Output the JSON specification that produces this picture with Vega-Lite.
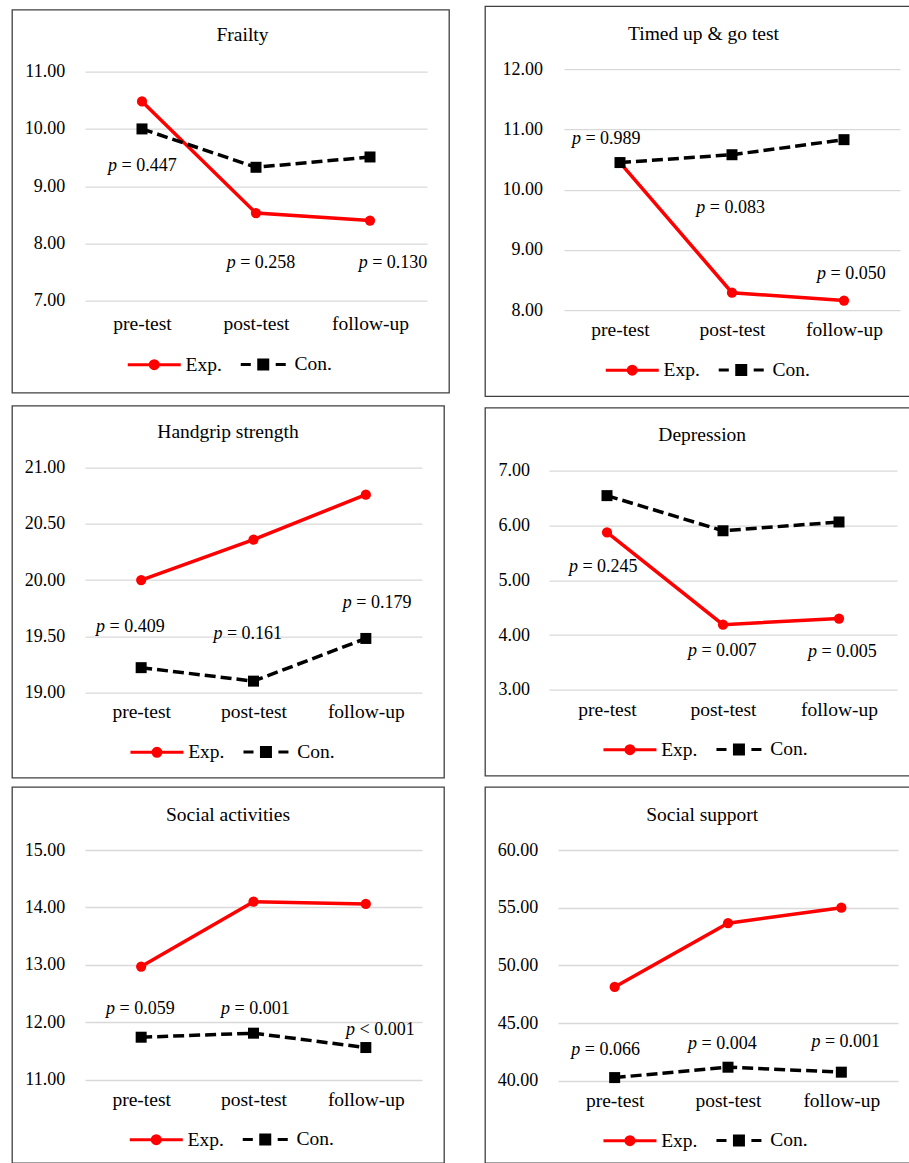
{
  "$schema": "https://vega.github.io/schema/vega-lite/v6.json",
  "background": "white",
  "padding": {"left": 11, "top": 5, "right": 0, "bottom": 0},
  "datasets": {
    "series": [
      {"panel": "Frailty", "group": "Exp.", "time": 0, "phase": "pre-test", "value": 10.48},
      {"panel": "Frailty", "group": "Exp.", "time": 1, "phase": "post-test", "value": 8.53},
      {"panel": "Frailty", "group": "Exp.", "time": 2, "phase": "follow-up", "value": 8.40},
      {"panel": "Frailty", "group": "Con.", "time": 0, "phase": "pre-test", "value": 10.00},
      {"panel": "Frailty", "group": "Con.", "time": 1, "phase": "post-test", "value": 9.33},
      {"panel": "Frailty", "group": "Con.", "time": 2, "phase": "follow-up", "value": 9.51},
      {"panel": "Timed up & go test", "group": "Exp.", "time": 0, "phase": "pre-test", "value": 10.45},
      {"panel": "Timed up & go test", "group": "Exp.", "time": 1, "phase": "post-test", "value": 8.29},
      {"panel": "Timed up & go test", "group": "Exp.", "time": 2, "phase": "follow-up", "value": 8.16},
      {"panel": "Timed up & go test", "group": "Con.", "time": 0, "phase": "pre-test", "value": 10.45},
      {"panel": "Timed up & go test", "group": "Con.", "time": 1, "phase": "post-test", "value": 10.58},
      {"panel": "Timed up & go test", "group": "Con.", "time": 2, "phase": "follow-up", "value": 10.83},
      {"panel": "Handgrip strength", "group": "Exp.", "time": 0, "phase": "pre-test", "value": 20.00},
      {"panel": "Handgrip strength", "group": "Exp.", "time": 1, "phase": "post-test", "value": 20.36},
      {"panel": "Handgrip strength", "group": "Exp.", "time": 2, "phase": "follow-up", "value": 20.76},
      {"panel": "Handgrip strength", "group": "Con.", "time": 0, "phase": "pre-test", "value": 19.22},
      {"panel": "Handgrip strength", "group": "Con.", "time": 1, "phase": "post-test", "value": 19.10},
      {"panel": "Handgrip strength", "group": "Con.", "time": 2, "phase": "follow-up", "value": 19.48},
      {"panel": "Depression", "group": "Exp.", "time": 0, "phase": "pre-test", "value": 5.87},
      {"panel": "Depression", "group": "Exp.", "time": 1, "phase": "post-test", "value": 4.19},
      {"panel": "Depression", "group": "Exp.", "time": 2, "phase": "follow-up", "value": 4.30},
      {"panel": "Depression", "group": "Con.", "time": 0, "phase": "pre-test", "value": 6.54},
      {"panel": "Depression", "group": "Con.", "time": 1, "phase": "post-test", "value": 5.90},
      {"panel": "Depression", "group": "Con.", "time": 2, "phase": "follow-up", "value": 6.06},
      {"panel": "Social activities", "group": "Exp.", "time": 0, "phase": "pre-test", "value": 12.97},
      {"panel": "Social activities", "group": "Exp.", "time": 1, "phase": "post-test", "value": 14.10},
      {"panel": "Social activities", "group": "Exp.", "time": 2, "phase": "follow-up", "value": 14.06},
      {"panel": "Social activities", "group": "Con.", "time": 0, "phase": "pre-test", "value": 11.74},
      {"panel": "Social activities", "group": "Con.", "time": 1, "phase": "post-test", "value": 11.81},
      {"panel": "Social activities", "group": "Con.", "time": 2, "phase": "follow-up", "value": 11.56},
      {"panel": "Social support", "group": "Exp.", "time": 0, "phase": "pre-test", "value": 48.13},
      {"panel": "Social support", "group": "Exp.", "time": 1, "phase": "post-test", "value": 53.65},
      {"panel": "Social support", "group": "Exp.", "time": 2, "phase": "follow-up", "value": 55.00},
      {"panel": "Social support", "group": "Con.", "time": 0, "phase": "pre-test", "value": 40.27},
      {"panel": "Social support", "group": "Con.", "time": 1, "phase": "post-test", "value": 41.17},
      {"panel": "Social support", "group": "Con.", "time": 2, "phase": "follow-up", "value": 40.74}
    ],
    "plabels": [
      {"panel": "Frailty", "time": -0.298, "value": 9.35, "txt": "= 0.447"},
      {"panel": "Frailty", "time": 0.743, "value": 7.664, "txt": "= 0.258"},
      {"panel": "Frailty", "time": 1.901, "value": 7.664, "txt": "= 0.130"},
      {"panel": "Timed up & go test", "time": -0.429, "value": 10.846, "txt": "= 0.989"},
      {"panel": "Timed up & go test", "time": 0.681, "value": 9.69, "txt": "= 0.083"},
      {"panel": "Timed up & go test", "time": 1.759, "value": 8.601, "txt": "= 0.050"},
      {"panel": "Handgrip strength", "time": -0.402, "value": 19.584, "txt": "= 0.409"},
      {"panel": "Handgrip strength", "time": 0.643, "value": 19.52, "txt": "= 0.161"},
      {"panel": "Handgrip strength", "time": 1.795, "value": 19.797, "txt": "= 0.179"},
      {"panel": "Depression", "time": -0.328, "value": 5.242, "txt": "= 0.245"},
      {"panel": "Depression", "time": 0.698, "value": 3.712, "txt": "= 0.007"},
      {"panel": "Depression", "time": 1.733, "value": 3.694, "txt": "= 0.005"},
      {"panel": "Social activities", "time": -0.313, "value": 12.223, "txt": "= 0.059"},
      {"panel": "Social activities", "time": 0.711, "value": 12.223, "txt": "= 0.001"},
      {"panel": "Social activities", "time": 1.824, "value": 11.862, "txt": "< 0.001"},
      {"panel": "Social support", "time": -0.383, "value": 42.694, "txt": "= 0.066"},
      {"panel": "Social support", "time": 0.647, "value": 43.17, "txt": "= 0.004"},
      {"panel": "Social support", "time": 1.736, "value": 43.32, "txt": "= 0.001"}
    ]
  },
  "spacing": 7.5,
  "resolve": {"scale": {"color": "independent"}, "legend": {"color": "independent"}},
  "vconcat": [
    {
      "hconcat": [
        {
          "width": 437, "height": 383,
          "title": {"text": "Frailty", "offset": -35.7, "dx": 12},
          "encoding": {
            "x": {"field": "time", "type": "quantitative", "scale": {"domain": [-0.5, 2.5], "range": [73, 415], "nice": false, "zero": false}, "axis": {"values": [0, 1, 2], "labelExpr": "['pre-test','post-test','follow-up'][datum.value]", "offset": -78.4, "title": null, "grid": false}},
            "y": {"field": "value", "type": "quantitative", "scale": {"domain": [7, 11], "range": [291, 62], "nice": false, "zero": false}, "axis": {"values": [7, 8, 9, 10, 11], "format": ".2f", "offset": -52.7, "title": null, "grid": true}}
          },
          "layer": [
            {"data": {"name": "series"}, "transform": [{"filter": "datum.panel === 'Frailty' && datum.group === 'Exp.'"}], "mark": {"type": "line", "strokeWidth": 3.5},
             "encoding": {"color": {"field": "group", "type": "nominal", "scale": {"domain": ["Exp.", "Con."], "range": ["#ff0000", "#000000"]},
               "legend": {"title": null, "legendX": 132.5, "legendY": 344.6, "encode": {"symbols": {"update": {
                 "shape": {"signal": "datum.value === 'Exp.' ? 'M-5.3,0L5.3,0M0.8,0A0.8,0.8,0,1,1,-0.8,0A0.8,0.8,0,1,1,0.8,0Z' : 'M-4.5,0L-2.49,0M2.49,0L4.5,0M-0.9,-0.9L0.9,-0.9L0.9,0.9L-0.9,0.9Z'"},
                 "fill": {"signal": "datum.value === 'Exp.' ? '#ff0000' : '#000000'"},
                 "stroke": {"signal": "datum.value === 'Exp.' ? '#ff0000' : '#000000'"},
                 "strokeWidth": {"value": 3}, "strokeDash": {"value": []}, "opacity": {"value": 1}, "fillOpacity": {"value": 1}, "strokeOpacity": {"value": 1}}}}}}}},
            {"data": {"name": "series"}, "transform": [{"filter": "datum.panel === 'Frailty' && datum.group === 'Exp.'"}], "mark": {"type": "point", "filled": true, "shape": "circle", "size": 105, "opacity": 1},
             "encoding": {"color": {"field": "group", "type": "nominal", "scale": {"domain": ["Exp.", "Con."], "range": ["#ff0000", "#000000"]}}}},
            {"data": {"name": "series"}, "transform": [{"filter": "datum.panel === 'Frailty' && datum.group === 'Con.'"}], "mark": {"type": "line", "strokeWidth": 3.5, "strokeDash": [11, 5]},
             "encoding": {"color": {"field": "group", "type": "nominal", "scale": {"domain": ["Exp.", "Con."], "range": ["#ff0000", "#000000"]}}}},
            {"data": {"name": "series"}, "transform": [{"filter": "datum.panel === 'Frailty' && datum.group === 'Con.'"}], "mark": {"type": "point", "filled": true, "shape": "square", "size": 121, "opacity": 1},
             "encoding": {"color": {"field": "group", "type": "nominal", "scale": {"domain": ["Exp.", "Con."], "range": ["#ff0000", "#000000"]}}}},
            {"data": {"name": "plabels"}, "transform": [{"filter": "datum.panel === 'Frailty'"}], "mark": {"type": "text", "text": "p", "fontStyle": "italic", "align": "left", "baseline": "middle", "fontSize": 18, "color": "#000000"}},
            {"data": {"name": "plabels"}, "transform": [{"filter": "datum.panel === 'Frailty'"}], "mark": {"type": "text", "align": "left", "baseline": "middle", "dx": 13.5, "fontSize": 18, "color": "#000000"}, "encoding": {"text": {"field": "txt"}}}
          ]
        },
        {
          "width": 427, "height": 390,
          "title": {"text": "Timed up & go test", "offset": -38.3, "dx": 5},
          "encoding": {
            "x": {"field": "time", "type": "quantitative", "scale": {"domain": [-0.5, 2.5], "range": [79, 415], "nice": false, "zero": false}, "axis": {"values": [0, 1, 2], "labelExpr": "['pre-test','post-test','follow-up'][datum.value]", "offset": -75.9, "title": null, "grid": false}},
            "y": {"field": "value", "type": "quantitative", "scale": {"domain": [8, 12], "range": [304, 63], "nice": false, "zero": false}, "axis": {"values": [8, 9, 10, 11, 12], "format": ".2f", "offset": -57.4, "title": null, "grid": true}}
          },
          "layer": [
            {"data": {"name": "series"}, "transform": [{"filter": "datum.panel === 'Timed up & go test' && datum.group === 'Exp.'"}], "mark": {"type": "line", "strokeWidth": 3.5},
             "encoding": {"color": {"field": "group", "type": "nominal", "scale": {"domain": ["Exp.", "Con."], "range": ["#ff0000", "#000000"]},
               "legend": {"title": null, "legendX": 137.5, "legendY": 353.6, "encode": {"symbols": {"update": {
                 "shape": {"signal": "datum.value === 'Exp.' ? 'M-5.3,0L5.3,0M0.8,0A0.8,0.8,0,1,1,-0.8,0A0.8,0.8,0,1,1,0.8,0Z' : 'M-4.5,0L-2.49,0M2.49,0L4.5,0M-0.9,-0.9L0.9,-0.9L0.9,0.9L-0.9,0.9Z'"},
                 "fill": {"signal": "datum.value === 'Exp.' ? '#ff0000' : '#000000'"},
                 "stroke": {"signal": "datum.value === 'Exp.' ? '#ff0000' : '#000000'"},
                 "strokeWidth": {"value": 3}, "strokeDash": {"value": []}, "opacity": {"value": 1}, "fillOpacity": {"value": 1}, "strokeOpacity": {"value": 1}}}}}}}},
            {"data": {"name": "series"}, "transform": [{"filter": "datum.panel === 'Timed up & go test' && datum.group === 'Exp.'"}], "mark": {"type": "point", "filled": true, "shape": "circle", "size": 105, "opacity": 1},
             "encoding": {"color": {"field": "group", "type": "nominal", "scale": {"domain": ["Exp.", "Con."], "range": ["#ff0000", "#000000"]}}}},
            {"data": {"name": "series"}, "transform": [{"filter": "datum.panel === 'Timed up & go test' && datum.group === 'Con.'"}], "mark": {"type": "line", "strokeWidth": 3.5, "strokeDash": [11, 5]},
             "encoding": {"color": {"field": "group", "type": "nominal", "scale": {"domain": ["Exp.", "Con."], "range": ["#ff0000", "#000000"]}}}},
            {"data": {"name": "series"}, "transform": [{"filter": "datum.panel === 'Timed up & go test' && datum.group === 'Con.'"}], "mark": {"type": "point", "filled": true, "shape": "square", "size": 121, "opacity": 1},
             "encoding": {"color": {"field": "group", "type": "nominal", "scale": {"domain": ["Exp.", "Con."], "range": ["#ff0000", "#000000"]}}}},
            {"data": {"name": "plabels"}, "transform": [{"filter": "datum.panel === 'Timed up & go test'"}], "mark": {"type": "text", "text": "p", "fontStyle": "italic", "align": "left", "baseline": "middle", "fontSize": 18, "color": "#000000"}},
            {"data": {"name": "plabels"}, "transform": [{"filter": "datum.panel === 'Timed up & go test'"}], "mark": {"type": "text", "align": "left", "baseline": "middle", "dx": 13.5, "fontSize": 18, "color": "#000000"}, "encoding": {"text": {"field": "txt"}}}
          ]
        }
      ],
      "spacing": 34,
      "center": true,
      "resolve": {"scale": {"color": "independent"}, "legend": {"color": "independent"}}
    },
    {
      "hconcat": [
        {
          "width": 432, "height": 372,
          "title": {"text": "Handgrip strength", "offset": -37.3},
          "encoding": {
            "x": {"field": "time", "type": "quantitative", "scale": {"domain": [-0.5, 2.5], "range": [73, 410], "nice": false, "zero": false}, "axis": {"values": [0, 1, 2], "labelExpr": "['pre-test','post-test','follow-up'][datum.value]", "offset": -74.9, "title": null, "grid": false}},
            "y": {"field": "value", "type": "quantitative", "scale": {"domain": [19, 21], "range": [286.7, 62], "nice": false, "zero": false}, "axis": {"values": [19, 19.5, 20, 20.5, 21], "format": ".2f", "offset": -52.7, "title": null, "grid": true}}
          },
          "layer": [
            {"data": {"name": "series"}, "transform": [{"filter": "datum.panel === 'Handgrip strength' && datum.group === 'Exp.'"}], "mark": {"type": "line", "strokeWidth": 3.5},
             "encoding": {"color": {"field": "group", "type": "nominal", "scale": {"domain": ["Exp.", "Con."], "range": ["#ff0000", "#000000"]},
               "legend": {"title": null, "legendX": 135.2, "legendY": 336.3, "encode": {"symbols": {"update": {
                 "shape": {"signal": "datum.value === 'Exp.' ? 'M-5.3,0L5.3,0M0.8,0A0.8,0.8,0,1,1,-0.8,0A0.8,0.8,0,1,1,0.8,0Z' : 'M-4.5,0L-2.49,0M2.49,0L4.5,0M-0.9,-0.9L0.9,-0.9L0.9,0.9L-0.9,0.9Z'"},
                 "fill": {"signal": "datum.value === 'Exp.' ? '#ff0000' : '#000000'"},
                 "stroke": {"signal": "datum.value === 'Exp.' ? '#ff0000' : '#000000'"},
                 "strokeWidth": {"value": 3}, "strokeDash": {"value": []}, "opacity": {"value": 1}, "fillOpacity": {"value": 1}, "strokeOpacity": {"value": 1}}}}}}}},
            {"data": {"name": "series"}, "transform": [{"filter": "datum.panel === 'Handgrip strength' && datum.group === 'Exp.'"}], "mark": {"type": "point", "filled": true, "shape": "circle", "size": 105, "opacity": 1},
             "encoding": {"color": {"field": "group", "type": "nominal", "scale": {"domain": ["Exp.", "Con."], "range": ["#ff0000", "#000000"]}}}},
            {"data": {"name": "series"}, "transform": [{"filter": "datum.panel === 'Handgrip strength' && datum.group === 'Con.'"}], "mark": {"type": "line", "strokeWidth": 3.5, "strokeDash": [11, 5]},
             "encoding": {"color": {"field": "group", "type": "nominal", "scale": {"domain": ["Exp.", "Con."], "range": ["#ff0000", "#000000"]}}}},
            {"data": {"name": "series"}, "transform": [{"filter": "datum.panel === 'Handgrip strength' && datum.group === 'Con.'"}], "mark": {"type": "point", "filled": true, "shape": "square", "size": 121, "opacity": 1},
             "encoding": {"color": {"field": "group", "type": "nominal", "scale": {"domain": ["Exp.", "Con."], "range": ["#ff0000", "#000000"]}}}},
            {"data": {"name": "plabels"}, "transform": [{"filter": "datum.panel === 'Handgrip strength'"}], "mark": {"type": "text", "text": "p", "fontStyle": "italic", "align": "left", "baseline": "middle", "fontSize": 18, "color": "#000000"}},
            {"data": {"name": "plabels"}, "transform": [{"filter": "datum.panel === 'Handgrip strength'"}], "mark": {"type": "text", "align": "left", "baseline": "middle", "dx": 13.5, "fontSize": 18, "color": "#000000"}, "encoding": {"text": {"field": "txt"}}}
          ]
        },
        {
          "width": 427, "height": 368,
          "title": {"text": "Depression", "offset": -38, "dx": 3.7},
          "encoding": {
            "x": {"field": "time", "type": "quantitative", "scale": {"domain": [-0.5, 2.5], "range": [64, 412], "nice": false, "zero": false}, "axis": {"values": [0, 1, 2], "labelExpr": "['pre-test','post-test','follow-up'][datum.value]", "offset": -74.9, "title": null, "grid": false}},
            "y": {"field": "value", "type": "quantitative", "scale": {"domain": [3, 7], "range": [282.3, 62.7], "nice": false, "zero": false}, "axis": {"values": [3, 4, 5, 6, 7], "format": ".2f", "offset": -44.4, "title": null, "grid": true}}
          },
          "layer": [
            {"data": {"name": "series"}, "transform": [{"filter": "datum.panel === 'Depression' && datum.group === 'Exp.'"}], "mark": {"type": "line", "strokeWidth": 3.5},
             "encoding": {"color": {"field": "group", "type": "nominal", "scale": {"domain": ["Exp.", "Con."], "range": ["#ff0000", "#000000"]},
               "legend": {"title": null, "legendX": 135.2, "legendY": 331.6, "encode": {"symbols": {"update": {
                 "shape": {"signal": "datum.value === 'Exp.' ? 'M-5.3,0L5.3,0M0.8,0A0.8,0.8,0,1,1,-0.8,0A0.8,0.8,0,1,1,0.8,0Z' : 'M-4.5,0L-2.49,0M2.49,0L4.5,0M-0.9,-0.9L0.9,-0.9L0.9,0.9L-0.9,0.9Z'"},
                 "fill": {"signal": "datum.value === 'Exp.' ? '#ff0000' : '#000000'"},
                 "stroke": {"signal": "datum.value === 'Exp.' ? '#ff0000' : '#000000'"},
                 "strokeWidth": {"value": 3}, "strokeDash": {"value": []}, "opacity": {"value": 1}, "fillOpacity": {"value": 1}, "strokeOpacity": {"value": 1}}}}}}}},
            {"data": {"name": "series"}, "transform": [{"filter": "datum.panel === 'Depression' && datum.group === 'Exp.'"}], "mark": {"type": "point", "filled": true, "shape": "circle", "size": 105, "opacity": 1},
             "encoding": {"color": {"field": "group", "type": "nominal", "scale": {"domain": ["Exp.", "Con."], "range": ["#ff0000", "#000000"]}}}},
            {"data": {"name": "series"}, "transform": [{"filter": "datum.panel === 'Depression' && datum.group === 'Con.'"}], "mark": {"type": "line", "strokeWidth": 3.5, "strokeDash": [11, 5]},
             "encoding": {"color": {"field": "group", "type": "nominal", "scale": {"domain": ["Exp.", "Con."], "range": ["#ff0000", "#000000"]}}}},
            {"data": {"name": "series"}, "transform": [{"filter": "datum.panel === 'Depression' && datum.group === 'Con.'"}], "mark": {"type": "point", "filled": true, "shape": "square", "size": 121, "opacity": 1},
             "encoding": {"color": {"field": "group", "type": "nominal", "scale": {"domain": ["Exp.", "Con."], "range": ["#ff0000", "#000000"]}}}},
            {"data": {"name": "plabels"}, "transform": [{"filter": "datum.panel === 'Depression'"}], "mark": {"type": "text", "text": "p", "fontStyle": "italic", "align": "left", "baseline": "middle", "fontSize": 18, "color": "#000000"}},
            {"data": {"name": "plabels"}, "transform": [{"filter": "datum.panel === 'Depression'"}], "mark": {"type": "text", "align": "left", "baseline": "middle", "dx": 13.5, "fontSize": 18, "color": "#000000"}, "encoding": {"text": {"field": "txt"}}}
          ]
        }
      ],
      "spacing": 39,
      "center": true,
      "resolve": {"scale": {"color": "independent"}, "legend": {"color": "independent"}}
    },
    {
      "hconcat": [
        {
          "width": 432, "height": 376,
          "title": {"text": "Social activities", "offset": -38},
          "encoding": {
            "x": {"field": "time", "type": "quantitative", "scale": {"domain": [-0.5, 2.5], "range": [73, 410], "nice": false, "zero": false}, "axis": {"values": [0, 1, 2], "labelExpr": "['pre-test','post-test','follow-up'][datum.value]", "offset": -72.4, "title": null, "grid": false}},
            "y": {"field": "value", "type": "quantitative", "scale": {"domain": [11, 15], "range": [292.7, 63], "nice": false, "zero": false}, "axis": {"values": [11, 12, 13, 14, 15], "format": ".2f", "offset": -52.7, "title": null, "grid": true}}
          },
          "layer": [
            {"data": {"name": "series"}, "transform": [{"filter": "datum.panel === 'Social activities' && datum.group === 'Exp.'"}], "mark": {"type": "line", "strokeWidth": 3.5},
             "encoding": {"color": {"field": "group", "type": "nominal", "scale": {"domain": ["Exp.", "Con."], "range": ["#ff0000", "#000000"]},
               "legend": {"title": null, "legendX": 134.5, "legendY": 342.3, "encode": {"symbols": {"update": {
                 "shape": {"signal": "datum.value === 'Exp.' ? 'M-5.3,0L5.3,0M0.8,0A0.8,0.8,0,1,1,-0.8,0A0.8,0.8,0,1,1,0.8,0Z' : 'M-4.5,0L-2.49,0M2.49,0L4.5,0M-0.9,-0.9L0.9,-0.9L0.9,0.9L-0.9,0.9Z'"},
                 "fill": {"signal": "datum.value === 'Exp.' ? '#ff0000' : '#000000'"},
                 "stroke": {"signal": "datum.value === 'Exp.' ? '#ff0000' : '#000000'"},
                 "strokeWidth": {"value": 3}, "strokeDash": {"value": []}, "opacity": {"value": 1}, "fillOpacity": {"value": 1}, "strokeOpacity": {"value": 1}}}}}}}},
            {"data": {"name": "series"}, "transform": [{"filter": "datum.panel === 'Social activities' && datum.group === 'Exp.'"}], "mark": {"type": "point", "filled": true, "shape": "circle", "size": 105, "opacity": 1},
             "encoding": {"color": {"field": "group", "type": "nominal", "scale": {"domain": ["Exp.", "Con."], "range": ["#ff0000", "#000000"]}}}},
            {"data": {"name": "series"}, "transform": [{"filter": "datum.panel === 'Social activities' && datum.group === 'Con.'"}], "mark": {"type": "line", "strokeWidth": 3.5, "strokeDash": [11, 5]},
             "encoding": {"color": {"field": "group", "type": "nominal", "scale": {"domain": ["Exp.", "Con."], "range": ["#ff0000", "#000000"]}}}},
            {"data": {"name": "series"}, "transform": [{"filter": "datum.panel === 'Social activities' && datum.group === 'Con.'"}], "mark": {"type": "point", "filled": true, "shape": "square", "size": 121, "opacity": 1},
             "encoding": {"color": {"field": "group", "type": "nominal", "scale": {"domain": ["Exp.", "Con."], "range": ["#ff0000", "#000000"]}}}},
            {"data": {"name": "plabels"}, "transform": [{"filter": "datum.panel === 'Social activities'"}], "mark": {"type": "text", "text": "p", "fontStyle": "italic", "align": "left", "baseline": "middle", "fontSize": 18, "color": "#000000"}},
            {"data": {"name": "plabels"}, "transform": [{"filter": "datum.panel === 'Social activities'"}], "mark": {"type": "text", "align": "left", "baseline": "middle", "dx": 13.5, "fontSize": 18, "color": "#000000"}, "encoding": {"text": {"field": "txt"}}}
          ]
        },
        {
          "width": 427, "height": 376,
          "title": {"text": "Social support", "offset": -38, "dx": 3.7},
          "encoding": {
            "x": {"field": "time", "type": "quantitative", "scale": {"domain": [-0.5, 2.5], "range": [73, 413], "nice": false, "zero": false}, "axis": {"values": [0, 1, 2], "labelExpr": "['pre-test','post-test','follow-up'][datum.value]", "offset": -71.6, "title": null, "grid": false}},
            "y": {"field": "value", "type": "quantitative", "scale": {"domain": [40, 60], "range": [293.7, 63], "nice": false, "zero": false}, "axis": {"values": [40, 45, 50, 55, 60], "format": ".2f", "offset": -52.7, "title": null, "grid": true}}
          },
          "layer": [
            {"data": {"name": "series"}, "transform": [{"filter": "datum.panel === 'Social support' && datum.group === 'Exp.'"}], "mark": {"type": "line", "strokeWidth": 3.5},
             "encoding": {"color": {"field": "group", "type": "nominal", "scale": {"domain": ["Exp.", "Con."], "range": ["#ff0000", "#000000"]},
               "legend": {"title": null, "legendX": 135.2, "legendY": 343.3, "encode": {"symbols": {"update": {
                 "shape": {"signal": "datum.value === 'Exp.' ? 'M-5.3,0L5.3,0M0.8,0A0.8,0.8,0,1,1,-0.8,0A0.8,0.8,0,1,1,0.8,0Z' : 'M-4.5,0L-2.49,0M2.49,0L4.5,0M-0.9,-0.9L0.9,-0.9L0.9,0.9L-0.9,0.9Z'"},
                 "fill": {"signal": "datum.value === 'Exp.' ? '#ff0000' : '#000000'"},
                 "stroke": {"signal": "datum.value === 'Exp.' ? '#ff0000' : '#000000'"},
                 "strokeWidth": {"value": 3}, "strokeDash": {"value": []}, "opacity": {"value": 1}, "fillOpacity": {"value": 1}, "strokeOpacity": {"value": 1}}}}}}}},
            {"data": {"name": "series"}, "transform": [{"filter": "datum.panel === 'Social support' && datum.group === 'Exp.'"}], "mark": {"type": "point", "filled": true, "shape": "circle", "size": 105, "opacity": 1},
             "encoding": {"color": {"field": "group", "type": "nominal", "scale": {"domain": ["Exp.", "Con."], "range": ["#ff0000", "#000000"]}}}},
            {"data": {"name": "series"}, "transform": [{"filter": "datum.panel === 'Social support' && datum.group === 'Con.'"}], "mark": {"type": "line", "strokeWidth": 3.5, "strokeDash": [11, 5]},
             "encoding": {"color": {"field": "group", "type": "nominal", "scale": {"domain": ["Exp.", "Con."], "range": ["#ff0000", "#000000"]}}}},
            {"data": {"name": "series"}, "transform": [{"filter": "datum.panel === 'Social support' && datum.group === 'Con.'"}], "mark": {"type": "point", "filled": true, "shape": "square", "size": 121, "opacity": 1},
             "encoding": {"color": {"field": "group", "type": "nominal", "scale": {"domain": ["Exp.", "Con."], "range": ["#ff0000", "#000000"]}}}},
            {"data": {"name": "plabels"}, "transform": [{"filter": "datum.panel === 'Social support'"}], "mark": {"type": "text", "text": "p", "fontStyle": "italic", "align": "left", "baseline": "middle", "fontSize": 18, "color": "#000000"}},
            {"data": {"name": "plabels"}, "transform": [{"filter": "datum.panel === 'Social support'"}], "mark": {"type": "text", "align": "left", "baseline": "middle", "dx": 13.5, "fontSize": 18, "color": "#000000"}, "encoding": {"text": {"field": "txt"}}}
          ]
        }
      ],
      "spacing": 39,
      "resolve": {"scale": {"color": "independent"}, "legend": {"color": "independent"}}
    }
  ],
  "config": {
    "font": "Liberation Serif",
    "view": {"stroke": "#404040", "strokeWidth": 1.3},
    "axis": {"labelFont": "Liberation Serif", "labelColor": "#000000", "domain": false, "ticks": false, "tickSize": 0, "labelPadding": 0, "gridColor": "#d9d9d9", "gridWidth": 1.3},
    "axisX": {"labelFontSize": 19.5, "grid": false},
    "axisY": {"labelFontSize": 18, "grid": true},
    "title": {"font": "Liberation Serif", "fontSize": 19.5, "fontWeight": "normal", "color": "#000000", "anchor": "middle", "baseline": "alphabetic", "frame": "group"},
    "legend": {"orient": "none", "direction": "horizontal", "symbolSize": 100, "labelFont": "Liberation Serif", "labelFontSize": 19.5, "labelColor": "#000000", "labelOffset": 21.5, "columnPadding": 12, "padding": 0, "symbolStrokeWidth": 3},
    "text": {"font": "Liberation Serif"}
  }
}
